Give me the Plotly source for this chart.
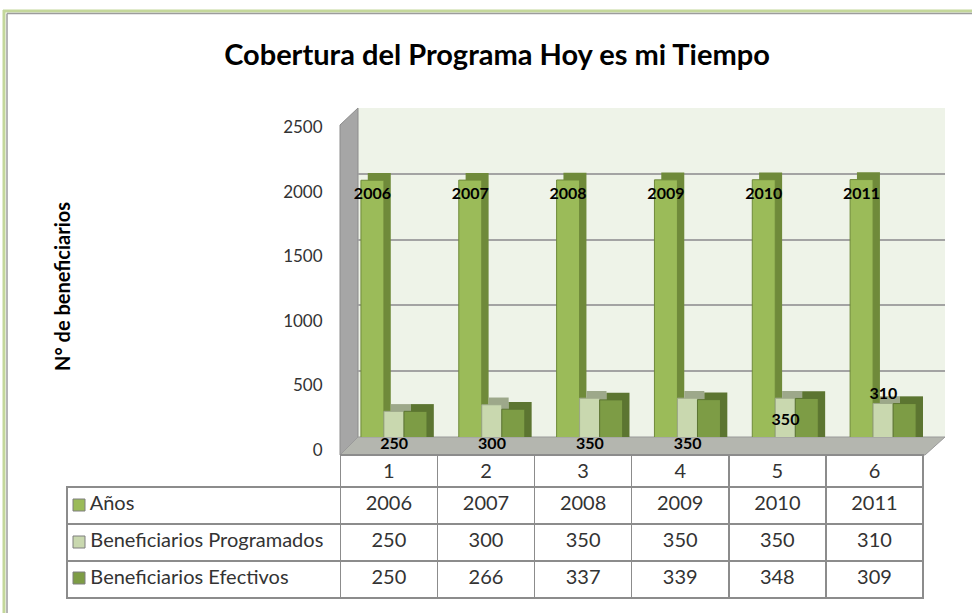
import plotly.graph_objects as go

# ---------------- data ----------------
categories = [1, 2, 3, 4, 5, 6]
anios = [2006, 2007, 2008, 2009, 2010, 2011]
programados = [250, 300, 350, 350, 350, 310]
efectivos = [250, 266, 337, 339, 348, 309]
series_names = ["Años", "Beneficiarios Programados", "Beneficiarios Efectivos"]
y_ticks = [0, 500, 1000, 1500, 2000, 2500]
title_text = "Cobertura del Programa Hoy es mi Tiempo"
y_title = "N° de beneficiarios"

# ---------------- styling ----------------
W, H = 972, 613
FONT = "Lato"
C_ANIOS, C_ANIOS_D = "#9BBB59", "#6F8A3A"
C_PROG, C_PROG_D = "#C9D8AF", "#9DA88A"
C_EFEC, C_EFEC_D = "#7D9C45", "#5C7531"
WALL = "#EEF3E8"
GRID = "#A3A3A3"
TXT = "#333333"


def px(x):
    return x / W


def py(y):
    return 1 - y / H


# bar geometry (x units = categories)
bars = [
    (anios, C_ANIOS, C_ANIOS_D, -0.47, 0.235, series_names[0]),
    (programados, C_PROG, C_PROG_D, -0.235, 0.205, series_names[1]),
    (efectivos, C_EFEC, C_EFEC_D, -0.03, 0.235, series_names[2]),
]
DEPTH_X = 0.07   # depth shift in category units
DEPTH_Y = 55     # depth shift in value units

fig = go.Figure()

for vals, cf, cd, off, wid, name in bars:
    # depth (side/top) face
    fig.add_trace(go.Bar(
        x=categories, y=vals, base=[0] * len(vals),
        offset=off + DEPTH_X, width=wid,
        marker=dict(color=cd, line=dict(width=0)),
        hoverinfo="skip", showlegend=False,
    ))

for i, (vals, cf, cd, off, wid, name) in enumerate(bars):
    kw = {}
    if i == 0:
        kw = dict(text=[str(v) for v in vals], textposition="inside",
                  insidetextanchor="end", textangle=0, constraintext="none",
                  textfont=dict(family=FONT, size=16, color="black", weight="bold"))
    fig.add_trace(go.Bar(
        x=categories, y=vals, base=[-DEPTH_Y] * len(vals),
        offset=off, width=wid, name=name,
        marker=dict(color=cf, line=dict(color=cd, width=1)),
        showlegend=False, cliponaxis=False, **kw,
    ))

# labels for "Beneficiarios Programados" (as placed in the original)
prog_label_y = [0, 0, 0, 0, programados[4] / 2 - DEPTH_Y, programados[5] - DEPTH_Y]
prog_label_pos = ["bottom center"] * 4 + ["middle center", "top center"]
fig.add_trace(go.Scatter(
    x=[c - 0.13 for c in categories], y=prog_label_y, mode="text",
    text=[str(v) for v in programados], textposition=prog_label_pos,
    textfont=dict(family=FONT, size=16, color="black", weight="bold"),
    cliponaxis=False, hoverinfo="skip", showlegend=False,
))

# invisible trace for the tick-label axis
fig.add_trace(go.Scatter(x=[categories[0]], y=[y_ticks[0]], yaxis="y2",
                         mode="markers", marker=dict(opacity=0),
                         hoverinfo="skip", showlegend=False))

# data table
NB = "\u00a0"
col_vals = [[NB * 3 + s.replace(" ", NB) for s in series_names]]
for a, p, e in zip(anios, programados, efectivos):
    col_vals.append([str(a), str(p), str(e)])

TBL_LINE = "#8C8C8C"
ncol = len(categories)
fig.add_trace(go.Table(
    domain=dict(x=[px(67), px(923)], y=[0, py(455)]),
    columnwidth=[273] + [97] * ncol,
    header=dict(values=[""] + [str(c) for c in categories], height=32,
                line=dict(color=["rgba(0,0,0,0)"] + [TBL_LINE] * ncol, width=1.5),
                fill=dict(color=["rgba(0,0,0,0)"] + ["white"] * ncol), align="center",
                font=dict(family=FONT, size=20, color=TXT)),
    cells=dict(values=col_vals, height=37,
               line=dict(color=TBL_LINE, width=1.5),
               fill=dict(color="white"),
               align=["left"] + ["center"] * ncol,
               font=dict(family=FONT, size=20, color=TXT)),
))

shapes = []
# back wall
shapes.append(dict(type="rect", xref="paper", yref="paper", layer="below",
                   x0=px(358), x1=px(945), y0=py(437), y1=py(108),
                   fillcolor=WALL, line=dict(width=0)))
# left wall
shapes.append(dict(type="path", xref="paper", yref="paper", layer="below",
                   path=f"M {px(340)},{py(125)} L {px(358)},{py(108)} L {px(358)},{py(437)} L {px(340)},{py(455)} Z",
                   fillcolor="#A6A6A6", line=dict(color="#8C8C8C", width=1)))
# floor
shapes.append(dict(type="path", xref="paper", yref="paper", layer="below",
                   path=f"M {px(340)},{py(455)} L {px(358)},{py(437)} L {px(945)},{py(437)} L {px(925)},{py(455)} Z",
                   fillcolor="#B4B6AF", line=dict(color="#9A9A9A", width=1)))
# legend keys inside the data table
row_centers = [505, 542, 578]
for yc, c in zip(row_centers, [C_ANIOS, C_PROG, C_EFEC]):
    shapes.append(dict(type="rect", xref="paper", yref="paper", layer="above",
                       x0=px(73), x1=px(85), y0=py(yc + 6), y1=py(yc - 6),
                       fillcolor=c, line=dict(color="#7F7F7F", width=1)))
# chart border
shapes.append(dict(type="line", xref="paper", yref="paper", x0=px(3), x1=1, y0=py(11), y1=py(11),
                   line=dict(color="#C4D79B", width=3)))
shapes.append(dict(type="line", xref="paper", yref="paper", x0=px(4), x1=px(4), y0=py(10), y1=0,
                   line=dict(color="#C4D79B", width=3)))
shapes.append(dict(type="line", xref="paper", yref="paper", x0=px(7), x1=1, y0=py(13.5), y1=py(13.5),
                   line=dict(color="#9C9C9C", width=1.5)))
shapes.append(dict(type="line", xref="paper", yref="paper", x0=px(7), x1=px(7), y0=py(13.5), y1=0,
                   line=dict(color="#9C9C9C", width=1.5)))

fig.update_layout(
    template="none",
    width=W, height=H, margin=dict(l=0, r=0, t=0, b=0, pad=0, autoexpand=False),
    paper_bgcolor="white", plot_bgcolor="rgba(0,0,0,0)",
    barmode="overlay", showlegend=False,
    font=dict(family=FONT, color=TXT),
    title=dict(text=title_text, x=px(497), xanchor="center", y=py(55), yanchor="middle",
               font=dict(family=FONT, size=29, color="black", weight="bold")),
    xaxis=dict(domain=[px(358), px(945)], range=[0.5, 6.5], showticklabels=False,
               showgrid=False, zeroline=False, showline=False, ticks="", automargin=False),
    yaxis=dict(domain=[py(437), py(108)], range=[0, 2500], tickvals=y_ticks,
               showticklabels=False, showgrid=True, gridcolor=GRID, gridwidth=2,
               zeroline=False, showline=False, ticks="", automargin=False),
    yaxis2=dict(domain=[py(450), py(127)], range=[0, 2500], tickvals=y_ticks,
                anchor="free", position=px(340), side="left", showgrid=False,
                zeroline=False, showline=False, ticks="outside", ticklen=14,
                tickcolor="rgba(0,0,0,0)", automargin=False,
                tickfont=dict(family=FONT, size=17, color=TXT)),
    annotations=[dict(text=y_title, xref="paper", yref="paper", x=px(62), y=py(287),
                      textangle=-90, showarrow=False, xanchor="center", yanchor="middle",
                      font=dict(family=FONT, size=20, color="black", weight="bold"))],
    shapes=shapes,
)

fig.write_html("out.html", config={"displayModeBar": False},
               post_script="document.body.style.margin='0';")
